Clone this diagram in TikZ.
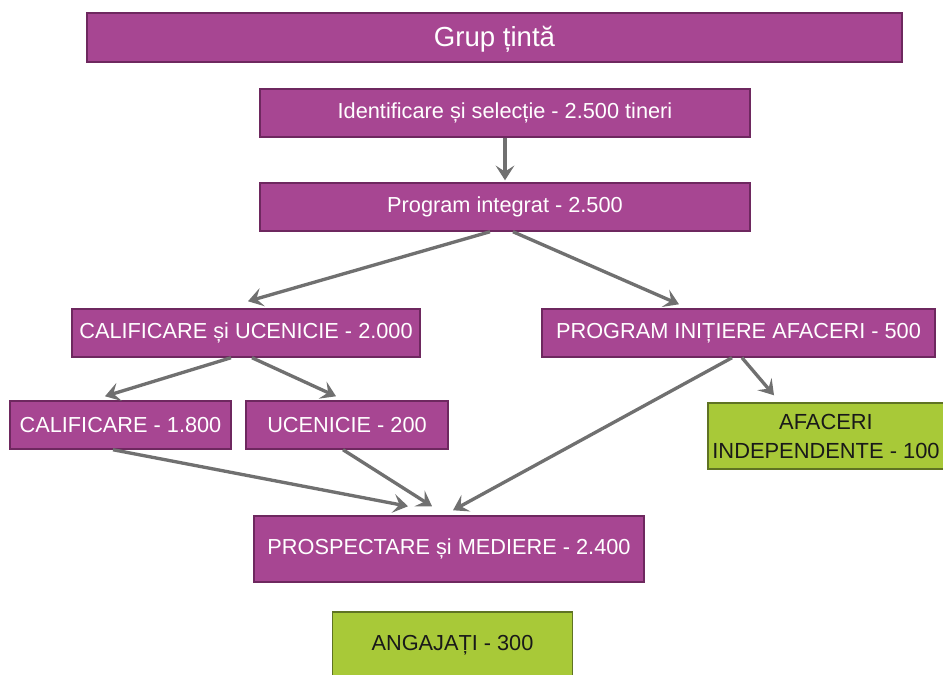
\documentclass[tikz,border=0pt]{standalone}
\usepackage{fontspec}
\setmainfont{Liberation Sans}
\usetikzlibrary{arrows.meta,calc}
\definecolor{pfill}{RGB}{167,70,146}
\definecolor{pline}{RGB}{110,40,95}
\definecolor{gfill}{RGB}{168,201,56}
\definecolor{gline}{RGB}{95,115,35}
\definecolor{aline}{RGB}{112,112,112}
\definecolor{gtxt}{RGB}{25,25,25}
\def\px{0.75pt}
\tikzset{
  pbox/.style={draw=pline, fill=pfill, line width=1.1pt, text=white, inner sep=0pt,
    font=\fontsize{16.3}{20}\selectfont},
  gbox/.style={draw=gline, fill=gfill, line width=1.1pt, text=gtxt, inner sep=0pt,
    font=\fontsize{16.3}{20}\selectfont},
  gtext/.style={text=gtxt, inner sep=0pt, align=center,
    font=\fontsize{16.4}{21.75}\selectfont},
  arr/.style={draw=aline, line width=2.5pt, -{Stealth[length=11pt,width=14pt,inset=4.5pt]}}
}
\begin{document}
\begin{tikzpicture}[x=0.75pt,y=-0.75pt]
\useasboundingbox (0,0) rectangle (943,675);
\fill[white] (0,0) rectangle (943,675);
% nodes
\node[pbox, minimum width=815*\px, minimum height=49*\px, font=\fontsize{20.7}{24}\selectfont, text depth=0pt, text height=14pt] (grup) at (494.5,37.5) {Grup țintă};
\node[pbox, minimum width=490*\px, minimum height=48*\px] (ident) at (505,113) {Identificare și selecție - 2.500 tineri};
\node[pbox, minimum width=490*\px, minimum height=48*\px] (prog) at (505,207) {Program integrat - 2.500};
\node[pbox, minimum width=348*\px, minimum height=48*\px] (calu) at (246,333) {CALIFICARE și UCENICIE - 2.000};
\node[pbox, minimum width=393*\px, minimum height=48*\px] (pia) at (738.5,333) {PROGRAM INIȚIERE AFACERI - 500};
\node[pbox, minimum width=221*\px, minimum height=48*\px] (cal) at (120.5,425) {CALIFICARE - 1.800};
\node[pbox, minimum width=202*\px, minimum height=48*\px] (uce) at (347,425) {UCENICIE - 200};
\node[gbox, minimum width=247*\px, minimum height=66*\px] (afa) at (831.5,436) {};
\node[gtext] (afat) at (826,436) {AFACERI\\INDEPENDENTE - 100};
\node[pbox, minimum width=390*\px, minimum height=66*\px] (prosp) at (449,549) {PROSPECTARE și MEDIERE - 2.400};
\node[gbox, minimum width=240*\px, minimum height=66*\px] (ang) at (452.5,645) {ANGAJAȚI - 300};
% connectors
\draw[arr] (ident.south) -- ($(prog.north)+(0,-2)$);
\draw[arr] ($(prog.south)+(-15,0)$) -- ($(calu.north)+(2,-7)$);
\draw[arr] ($(prog.south)+(8,0)$) -- ($(pia.north)+(-59.5,-4)$);
\draw[arr] ($(calu.south)+(-15,0)$) -- ($(cal.north)+(-15.5,-4)$);
\draw[arr] ($(calu.south)+(6,0)$) -- ($(uce.north)+(-11,-4)$);
\draw[arr] ($(pia.south)+(3.5,0)$) -- ($(afa.north)+(-57.5,-7)$);
\draw[arr] ($(pia.south)+(-6.5,0)$) -- ($(prosp.north)+(4,-5)$);
\draw[arr] ($(cal.south)+(-7.5,0)$) -- ($(prosp.north)+(-41,-9)$);
\draw[arr] ($(uce.south)+(-4,0)$) -- ($(prosp.north)+(-17,-9)$);
\end{tikzpicture}
\end{document}
